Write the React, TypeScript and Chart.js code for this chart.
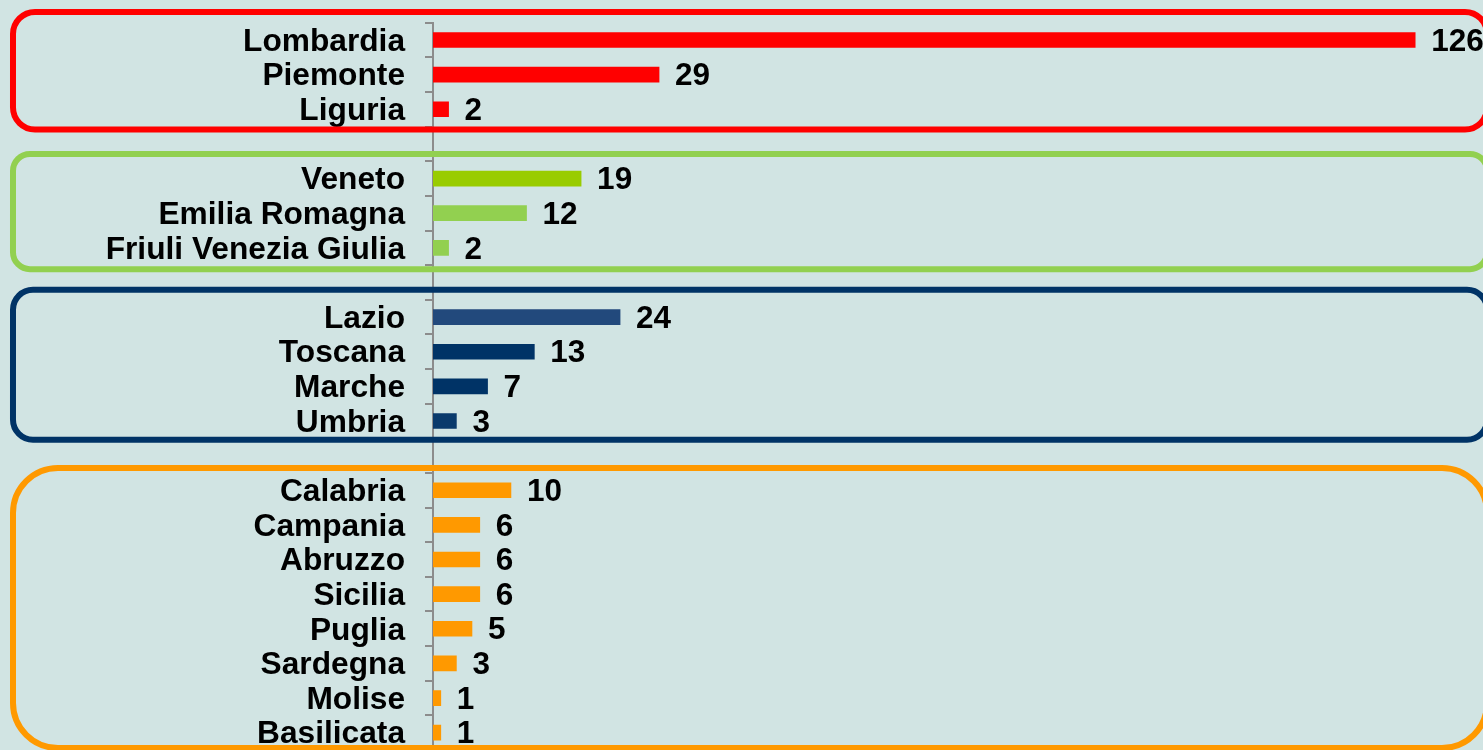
import React, { useEffect, useRef } from "react";
import { Chart, registerables } from "chart.js";

Chart.register(...registerables);

const regions = [
  "Lombardia", "Piemonte", "Liguria", "",
  "Veneto", "Emilia Romagna", "Friuli Venezia Giulia", "",
  "Lazio", "Toscana", "Marche", "Umbria", "",
  "Calabria", "Campania", "Abruzzo", "Sicilia", "Puglia", "Sardegna", "Molise", "Basilicata",
];

const counts: (number | null)[] = [
  126, 29, 2, null,
  19, 12, 2, null,
  24, 13, 7, 3, null,
  10, 6, 6, 6, 5, 3, 1, 1,
];

const barColors = [
  "#ff0000", "#ff0000", "#ff0000", "#ff0000",
  "#99cc00", "#92d050", "#92d050", "#92d050",
  "#22497c", "#003366", "#003366", "#0a3a6c", "#003366",
  "#ff9900", "#ff9900", "#ff9900", "#ff9900", "#ff9900", "#ff9900", "#ff9900", "#ff9900",
];

// group frames: first and last row index, color, offsets and radius (styling)
const groups = [
  { from: 0, to: 2, color: "#ff0000", top: -10.7, bottom: 3, radius: 22 },
  { from: 4, to: 6, color: "#92d050", top: -7.3, bottom: 4, radius: 17 },
  { from: 8, to: 11, color: "#003366", top: -10, bottom: 1.5, radius: 20 },
  { from: 13, to: 20, color: "#ff9900", top: -5, bottom: -2, radius: 45 },
];

const FONT = '"Liberation Sans", Arial, sans-serif';

const valueLabels = {
  id: "valueLabels",
  afterDatasetsDraw(chart: any) {
    const ctx = chart.ctx;
    const meta = chart.getDatasetMeta(0);
    ctx.save();
    ctx.font = `bold 31.5px ${FONT}`;
    ctx.fillStyle = "#000000";
    ctx.textAlign = "left";
    ctx.textBaseline = "middle";
    meta.data.forEach((bar: any, i: number) => {
      const v = counts[i];
      if (v === null || v === undefined) return;
      ctx.fillText(String(v), bar.x + 16, bar.y + 2);
    });
    ctx.restore();
  },
};

const groupFrames = {
  id: "groupFrames",
  afterDraw(chart: any) {
    const ctx = chart.ctx;
    const y = chart.scales.y;
    const step = y.getPixelForValue(1) - y.getPixelForValue(0);
    ctx.save();
    ctx.lineWidth = 6;
    groups.forEach((g) => {
      const top = y.getPixelForValue(g.from) - step / 2 + g.top;
      const bottom = y.getPixelForValue(g.to) + step / 2 + g.bottom;
      const left = 13;
      const right = 1487;
      ctx.strokeStyle = g.color;
      ctx.beginPath();
      ctx.roundRect(left, top, right - left, bottom - top, g.radius);
      ctx.stroke();
    });
    ctx.restore();
  },
};

export default function App() {
  const canvasRef = useRef<HTMLCanvasElement | null>(null);

  useEffect(() => {
    if (!canvasRef.current) return;
    const chart = new Chart(canvasRef.current, {
      type: "bar",
      data: {
        labels: regions,
        datasets: [
          {
            data: counts as any,
            backgroundColor: barColors,
            borderWidth: 0,
            barThickness: 15,
          },
        ],
      },
      options: {
        indexAxis: "y",
        animation: false,
        responsive: false,
        maintainAspectRatio: false,
        layout: { padding: { top: 22.7, bottom: 0, left: 0, right: 0 } },
        plugins: {
          legend: { display: false },
          tooltip: { enabled: false },
        },
        scales: {
          x: {
            display: false,
            min: 0,
            max: 134.7,
          },
          y: {
            offset: true,
            afterFit(scale: any) {
              scale.width = 433;
              scale.paddingTop = 0;
              scale.paddingBottom = 0;
            },
            grid: {
              offset: true,
              drawOnChartArea: false,
              drawTicks: true,
              tickLength: 8,
              color: "#8c8c8c",
              lineWidth: 2,
            },
            border: { display: true, color: "#8c8c8c", width: 2 },
            ticks: {
              autoSkip: false,
              padding: 20,
              labelOffset: 2,
              color: "#000000",
              font: { family: FONT, size: 31.7, weight: "bold" },
            },
          },
        },
      },
      plugins: [valueLabels, groupFrames],
    });
    return () => chart.destroy();
  }, []);

  return (
    <div
      style={{
        position: "fixed",
        left: 0,
        top: 0,
        width: 1483,
        height: 750,
        background: "#d1e4e3",
        overflow: "hidden",
      }}
    >
      <canvas ref={canvasRef} width={1483} height={750} style={{ display: "block" }} />
    </div>
  );
}
